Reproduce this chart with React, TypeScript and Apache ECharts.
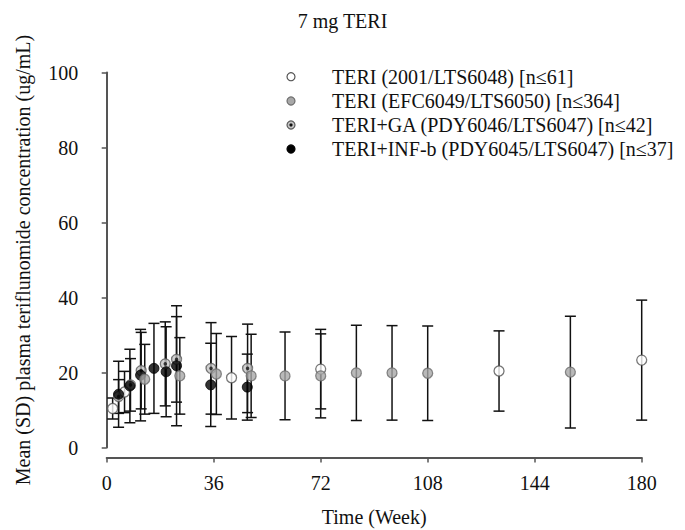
import React, { useEffect, useRef } from "react";
import * as echarts from "echarts";

const chartTitle = "7 mg TERI";
const xAxisName = "Time (Week)";
const yAxisName = "Mean (SD) plasma teriflunomide concentration (ug/mL)";

const seriesNames = [
  "TERI (2001/LTS6048) [n≤61]",
  "TERI (EFC6049/LTS6050) [n≤364]",
  "TERI+GA (PDY6046/LTS6047) [n≤42]",
  "TERI+INF-b (PDY6045/LTS6047) [n≤37]",
];

// TERI (2001/LTS6048)
const teri2001Weeks = [2, 6, 42, 72, 132, 180];
const teri2001Mean = [10.4, 14.8, 18.6, 20.9, 20.4, 23.3];
const teri2001SD = [2.8, 5.5, 11.0, 10.6, 10.7, 16.0];

// TERI (EFC6049/LTS6050)
const efcWeeks = [12.8, 24.6, 36.9, 48.6, 60, 72, 84, 96, 108, 156];
const efcMean = [18.2, 19.1, 19.6, 19.1, 19.1, 19.1, 19.9, 19.9, 19.8, 20.1];
const efcSD = [9.3, 10.2, 10.8, 11.1, 11.7, 11.2, 12.7, 12.6, 12.6, 14.9];

// TERI+GA (PDY6046/LTS6047)
const gaWeeks = [4, 8, 11.6, 19.7, 23.5, 35.1, 47.4];
const gaMean = [13.6, 16.7, 20.5, 22.3, 23.5, 21.1, 21.1];
const gaSD = [4.5, 7.0, 10.2, 11.2, 11.4, 12.2, 11.8];

// TERI+INF-b (PDY6045/LTS6047)
const infWeeks = [4, 7.8, 11.4, 15.9, 20, 23.5, 35, 47.3];
const infMean = [14.2, 16.4, 19.3, 21.1, 20.2, 21.8, 16.7, 16.1];
const infSD = [8.8, 9.8, 12.2, 12.0, 12.0, 16.0, 11.1, 8.8];

const xMin = 0;
const xMax = 180;
const xStep = 36;
const yMin = 0;
const yMax = 100;
const yStep = 20;

const FONT = "'Liberation Serif', 'Times New Roman', serif";
const FS = 20;

const rows = (w: number[], m: number[], s: number[]) =>
  w.map((x, i) => [x, m[i], s[i]]);

const markerStyles = [
  { color: "#ffffff", borderColor: "#555555", borderWidth: 1.3 },
  { color: "#a8a8a8", borderColor: "#6e6e6e", borderWidth: 1.3 },
  { color: "#c4c4c4", borderColor: "#5a5a5a", borderWidth: 1.3 },
  { color: "#000000", borderColor: "#000000", borderWidth: 1 },
];

export default function App() {
  const ref = useRef<HTMLDivElement>(null);

  useEffect(() => {
    if (!ref.current) return;
    const chart = echarts.init(ref.current, null, { renderer: "svg" });

    const groups = [
      rows(teri2001Weeks, teri2001Mean, teri2001SD),
      rows(efcWeeks, efcMean, efcSD),
      rows(gaWeeks, gaMean, gaSD),
      rows(infWeeks, infMean, infSD),
    ];

    const errRender = (_params: any, api: any) => {
      const x = api.value(0);
      const m = api.value(1);
      const s = api.value(2);
      const top = api.coord([x, m + s]);
      const bot = api.coord([x, m - s]);
      const hw = 5.5;
      const style = { stroke: "#111111", lineWidth: 1.5 };
      return {
        type: "group",
        children: [
          { type: "line", shape: { x1: top[0], y1: top[1], x2: bot[0], y2: bot[1] }, style },
          { type: "line", shape: { x1: top[0] - hw, y1: top[1], x2: top[0] + hw, y2: top[1] }, style },
          { type: "line", shape: { x1: bot[0] - hw, y1: bot[1], x2: bot[0] + hw, y2: bot[1] }, style },
        ],
      };
    };

    const errSeries = groups.map((g, i) => ({
      type: "custom",
      name: "err" + i,
      renderItem: errRender,
      data: g,
      encode: { x: 0, y: 1 },
      z: 1,
      silent: true,
    }));

    const scatter = (i: number, z: number) => ({
      type: "scatter",
      name: seriesNames[i],
      data: groups[i].map((r) => [r[0], r[1]]),
      symbol: "circle",
      symbolSize: 10,
      itemStyle: markerStyles[i],
      z,
    });

    const gaDot = {
      type: "scatter",
      name: "gaDot",
      data: groups[2].map((r) => [r[0], r[1]]),
      symbol: "circle",
      symbolSize: 3.5,
      itemStyle: { color: "#111" },
      z: 4,
    };

    const legendRowY = [76.7, 101, 125, 149];
    const legendChildren: any[] = [];
    seriesNames.forEach((name, i) => {
      const y = legendRowY[i];
      legendChildren.push({
        type: "circle",
        shape: { cx: 291, cy: y, r: 4 },
        style: {
          fill: markerStyles[i].color,
          stroke: markerStyles[i].borderColor,
          lineWidth: 1.2,
        },
      });
      if (i === 2) {
        legendChildren.push({
          type: "circle",
          shape: { cx: 291, cy: y, r: 1.6 },
          style: { fill: "#111" },
        });
      }
      legendChildren.push({
        type: "text",
        x: 332,
        y,
        style: {
          text: name,
          fill: "#111",
          font: `${FS}px ${FONT}`,
          verticalAlign: "middle",
          align: "left",
        },
      });
    });

    chart.setOption({
      animation: false,
      backgroundColor: "#ffffff",
      textStyle: { fontFamily: FONT },
      title: {
        text: chartTitle,
        left: "center",
        top: 6,
        textStyle: { fontFamily: FONT, fontSize: FS, fontWeight: "normal", color: "#111" },
      },
      grid: {
        left: 106.7,
        right: 43.3,
        top: 72.5,
        bottom: 82.5,
        containLabel: false,
        outerBoundsMode: "none",
      },
      xAxis: {
        type: "value",
        min: xMin,
        max: xMax,
        interval: xStep,
        offset: 10,
        name: xAxisName,
        nameLocation: "middle",
        nameGap: 49,
        nameTextStyle: { fontFamily: FONT, fontSize: FS, color: "#111" },
        axisLine: { show: true, onZero: false, lineStyle: { color: "#555", width: 2 } },
        axisTick: { show: true, length: 5, inside: false, lineStyle: { color: "#555", width: 1.5 } },
        axisLabel: { fontFamily: FONT, fontSize: FS, color: "#111", margin: 15 },
        splitLine: { show: false },
      },
      yAxis: {
        type: "value",
        min: yMin,
        max: yMax,
        interval: yStep,
        offset: 14.4,
        name: yAxisName,
        nameLocation: "middle",
        nameGap: 59,
        nameTextStyle: { fontFamily: FONT, fontSize: FS, color: "#111" },
        axisLine: { show: true, lineStyle: { color: "#555", width: 2 } },
        axisTick: { show: true, length: 5, inside: false, lineStyle: { color: "#555", width: 1.5 } },
        axisLabel: { fontFamily: FONT, fontSize: FS, color: "#111", margin: 14 },
        splitLine: { show: false },
      },
      series: [
        ...errSeries,
        scatter(2, 3),
        gaDot,
        scatter(0, 5),
        scatter(3, 6),
        scatter(1, 7),
      ],
      graphic: [{ type: "group", children: legendChildren }],
    });

    return () => chart.dispose();
  }, []);

  return (
    <div
      ref={ref}
      style={{ position: "fixed", left: 0, top: 0, width: 685, height: 530, background: "#fff" }}
    />
  );
}
